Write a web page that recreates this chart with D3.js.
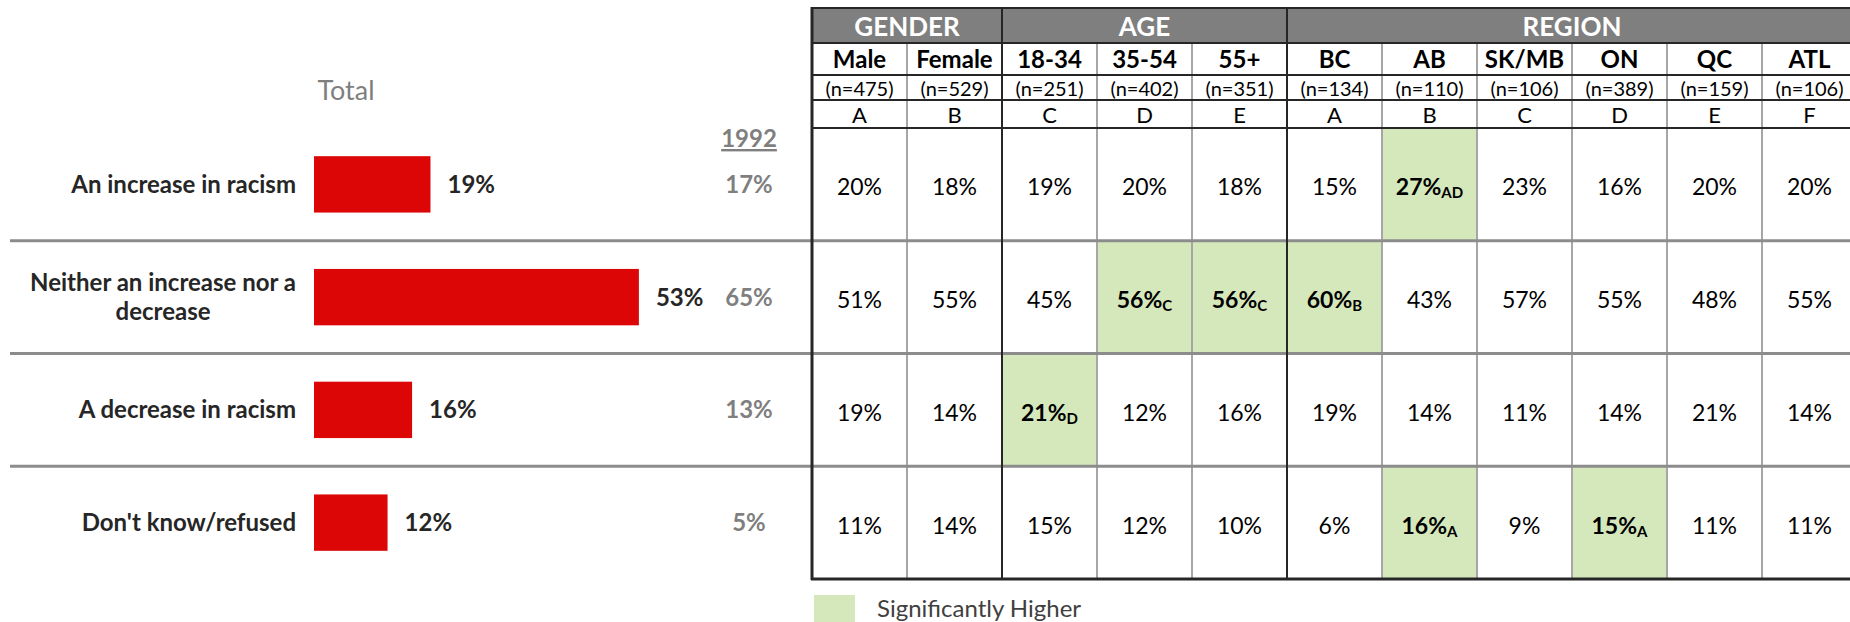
<!DOCTYPE html>
<html>
<head>
<meta charset="utf-8">
<script src="https://cdn.jsdelivr.net/npm/d3@7"></script>
<style>
  body { margin: 0; background: #fff; }
  svg { display: block; font-family: Lato, "Open Sans", sans-serif; }
</style>
</head>
<body>
<svg id="chart" width="1850" height="622"></svg>
<script>
// ---- data ----
var categories = ["An increase in racism", "Neither an increase nor a decrease", "A decrease in racism", "Don't know/refused"];
var totals = [19, 53, 16, 12];
var prev1992 = [17, 65, 13, 5];

var groupNames = ["GENDER", "AGE", "REGION"];
var groupSpans = [2, 3, 6];
var columns = ["Male", "Female", "18-34", "35-54", "55+", "BC", "AB", "SK/MB", "ON", "QC", "ATL"];
var sampleSizes = [475, 529, 251, 402, 351, 134, 110, 106, 389, 159, 106];
var colLetters = ["A", "B", "C", "D", "E", "A", "B", "C", "D", "E", "F"];

var rowValues = [
  [20, 18, 19, 20, 18, 15, 27, 23, 16, 20, 20],
  [51, 55, 45, 56, 56, 60, 43, 57, 55, 48, 55],
  [19, 14, 21, 12, 16, 19, 14, 11, 14, 21, 14],
  [11, 14, 15, 12, 10, 6, 16, 9, 15, 11, 11]
];
// significance letters ("" = not significant)
var rowSig = [
  ["", "", "", "", "", "", "AD", "", "", "", ""],
  ["", "", "", "C", "C", "B", "", "", "", "", ""],
  ["", "", "D", "", "", "", "", "", "", "", ""],
  ["", "", "", "", "", "", "A", "", "A", "", ""]
];

// ---- layout ----
var svg = d3.select("#chart");
var dark = "#262626", midGray = "#7f7f7f", lightLine = "#a6a6a6",
    red = "#dc0606", green = "#d5e8bc";

var tableLeft = 812, colW = 95;
var headLines = [8, 43, 75, 100, 128];   // header row edges
var bodyTop = 128, bodyBottom = 579;

var xCol = d3.scaleBand()
    .domain(d3.range(columns.length))
    .range([tableLeft, tableLeft + colW * columns.length]);
var tableRight = xCol.range()[1];

var yRow = d3.scaleBand().domain(categories).range([bodyTop, bodyBottom]);
var yBar = d3.scaleBand().domain(categories).range([bodyTop, bodyBottom])
    .paddingInner(0.5).paddingOuter(0.25);
var xBar = d3.scaleLinear().domain([0, 100]).range([314, 927]);

// ---- left chart ----
svg.append("text")
    .attr("x", 346).attr("y", 100)
    .attr("text-anchor", "middle")
    .attr("fill", midGray)
    .style("font-size", "27px")
    .text("Total");

svg.append("text")
    .attr("x", 749).attr("y", 147)
    .attr("text-anchor", "middle")
    .attr("fill", midGray)
    .style("font-size", "24px").style("font-weight", "bold")
    .style("text-decoration", "underline")
    .text("1992");

svg.selectAll(".bar")
  .data(categories)
  .enter().append("rect")
    .attr("class", "bar")
    .attr("x", xBar(0))
    .attr("y", function(d) { return yBar(d); })
    .attr("width", function(d, i) { return xBar(totals[i]) - xBar(0); })
    .attr("height", yBar.bandwidth())
    .attr("fill", red);

svg.selectAll(".val")
  .data(categories)
  .enter().append("text")
    .attr("class", "val")
    .attr("x", function(d, i) { return xBar(totals[i]) + 17; })
    .attr("y", function(d) { return yBar(d) + yBar.bandwidth() / 2; })
    .attr("dy", "0.35em")
    .attr("fill", dark)
    .style("font-size", "24px").style("font-weight", "bold")
    .text(function(d, i) { return totals[i] + "%"; });

svg.selectAll(".old")
  .data(categories)
  .enter().append("text")
    .attr("class", "old")
    .attr("x", 749)
    .attr("y", function(d) { return yRow(d) + yRow.bandwidth() / 2; })
    .attr("dy", "0.35em")
    .attr("text-anchor", "middle")
    .attr("fill", midGray)
    .style("font-size", "24px").style("font-weight", "bold")
    .text(function(d, i) { return prev1992[i] + "%"; });

// category labels, wrapped and right aligned as a block
var labelRight = 296, wrapWidth = 290;
svg.selectAll(".cat")
  .data(categories)
  .enter().append("text")
    .attr("class", "cat")
    .attr("fill", dark)
    .style("font-size", "24px").style("font-weight", "bold")
    .each(function(d) {
      var t = d3.select(this), words = d.split(" "), lines = [], line = [];
      var probe = t.append("tspan");
      words.forEach(function(w) {
        line.push(w);
        probe.text(line.join(" "));
        if (probe.node().getComputedTextLength() > wrapWidth && line.length > 1) {
          line.pop();
          lines.push(line.join(" "));
          line = [w];
        }
      });
      lines.push(line.join(" "));
      probe.remove();
      var cy = yRow(d) + yRow.bandwidth() / 2, lh = 29;
      var spans = lines.map(function(l, i) {
        return t.append("tspan").attr("y", cy + (i - (lines.length - 1) / 2) * lh).attr("dy", "0.35em").text(l);
      });
      var maxW = d3.max(spans, function(s) { return s.node().getComputedTextLength(); });
      spans.forEach(function(s) {
        s.attr("x", labelRight - maxW / 2).attr("text-anchor", "middle");
      });
    });

// ---- table ----
// header band
svg.append("rect")
    .attr("x", tableLeft).attr("y", headLines[0])
    .attr("width", tableRight - tableLeft).attr("height", headLines[1] - headLines[0])
    .attr("fill", midGray);

// significant cells
rowValues.forEach(function(vals, r) {
  vals.forEach(function(v, c) {
    if (rowSig[r][c]) {
      svg.append("rect")
          .attr("x", xCol(c)).attr("y", yRow(categories[r]))
          .attr("width", xCol.bandwidth()).attr("height", yRow.bandwidth())
          .attr("fill", green);
    }
  });
});

// group boundaries
var groupStarts = [0];
groupSpans.forEach(function(s, i) { groupStarts.push(groupStarts[i] + s); });

// light vertical lines inside groups
d3.range(1, columns.length).forEach(function(c) {
  if (groupStarts.indexOf(c) < 0) {
    svg.append("line")
        .attr("x1", xCol(c)).attr("x2", xCol(c))
        .attr("y1", headLines[1]).attr("y2", bodyBottom)
        .attr("stroke", lightLine).attr("stroke-width", 2);
  }
});

// data row separators (run across the bar chart too)
categories.slice(1).forEach(function(d) {
  svg.append("line")
      .attr("x1", 10).attr("x2", tableRight)
      .attr("y1", yRow(d)).attr("y2", yRow(d))
      .attr("stroke", "#8c8c8c").attr("stroke-width", 3);
});

// dark header lines
headLines.forEach(function(y) {
  svg.append("line")
      .attr("x1", tableLeft).attr("x2", tableRight)
      .attr("y1", y).attr("y2", y)
      .attr("stroke", dark).attr("stroke-width", 2);
});
svg.append("line")
    .attr("x1", tableLeft - 1).attr("x2", tableRight)
    .attr("y1", bodyBottom).attr("y2", bodyBottom)
    .attr("stroke", dark).attr("stroke-width", 3);

// dark group lines
groupStarts.forEach(function(c) {
  var x = c < columns.length ? xCol(c) : tableRight;
  svg.append("line")
      .attr("x1", x).attr("x2", x)
      .attr("y1", headLines[0] - 1).attr("y2", bodyBottom + 1)
      .attr("stroke", dark).attr("stroke-width", c === 0 ? 3 : 2);
});

// group titles
groupNames.forEach(function(g, i) {
  var x0 = xCol(groupStarts[i]);
  var x1 = groupStarts[i + 1] < columns.length ? xCol(groupStarts[i + 1]) : tableRight;
  svg.append("text")
      .attr("x", (x0 + x1) / 2).attr("y", (headLines[0] + headLines[1]) / 2 + 1)
      .attr("dy", "0.35em").attr("text-anchor", "middle")
      .attr("fill", "#fff")
      .style("font-size", "26px").style("font-weight", "bold")
      .text(g);
});

function headerRow(labels, r, size, weight) {
  svg.selectAll(null)
    .data(labels)
    .enter().append("text")
      .attr("x", function(d, i) { return xCol(i) + xCol.bandwidth() / 2; })
      .attr("y", (headLines[r] + headLines[r + 1]) / 2 + 1)
      .attr("dy", "0.35em").attr("text-anchor", "middle")
      .attr("fill", "#000")
      .style("font-size", size).style("font-weight", weight)
      .text(function(d) { return d; });
}
headerRow(columns, 1, "24px", "bold");
headerRow(sampleSizes.map(function(n) { return "(n=" + n + ")"; }), 2, "20px", "normal");
headerRow(colLetters, 3, "22px", "normal");

// cell values
rowValues.forEach(function(vals, r) {
  svg.selectAll(null)
    .data(vals)
    .enter().append("text")
      .attr("x", function(d, c) { return xCol(c) + xCol.bandwidth() / 2; })
      .attr("y", yRow(categories[r]) + yRow.bandwidth() / 2 + 3)
      .attr("dy", "0.35em").attr("text-anchor", "middle")
      .attr("fill", "#000")
      .style("font-size", "23px")
      .style("font-weight", function(d, c) { return rowSig[r][c] ? "bold" : "normal"; })
      .each(function(d, c) {
        var t = d3.select(this);
        t.append("tspan").text(d + "%");
        if (rowSig[r][c]) {
          t.append("tspan").attr("dy", 3).style("font-size", "15px").text(rowSig[r][c]);
        }
      });
});

// legend
svg.append("rect")
    .attr("x", 814).attr("y", 595).attr("width", 41).attr("height", 30)
    .attr("fill", green);
svg.append("text")
    .attr("x", 877).attr("y", 617)
    .attr("fill", "#404040")
    .style("font-size", "24px")
    .text("Significantly Higher");
</script>
</body>
</html>
